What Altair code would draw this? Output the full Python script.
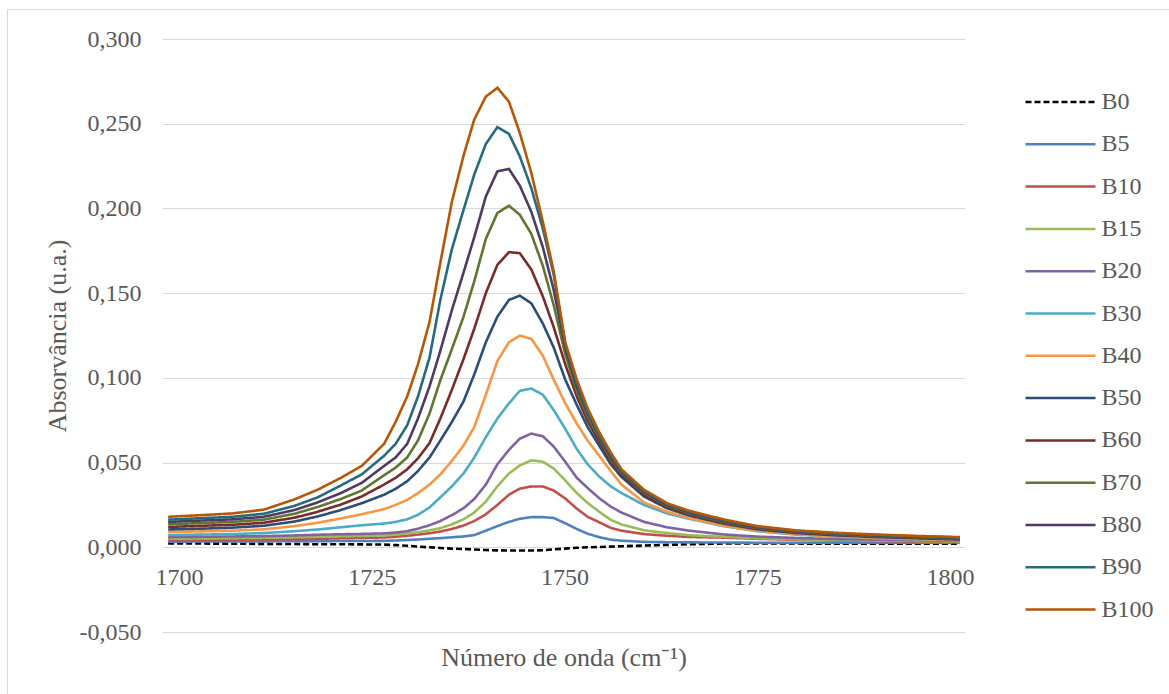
import altair as alt
import pandas as pd

# Wavenumber sampling points (cm-1)
wavenumber = [1698.6, 1703.0, 1707.0, 1711.0, 1715.0, 1718.0, 1721.0, 1723.7, 1726.6, 1728.1,
              1729.6, 1731.0, 1732.5, 1733.9, 1735.4, 1736.9, 1738.3, 1739.8, 1741.3, 1742.8,
              1744.2, 1745.7, 1747.2, 1748.6, 1750.1, 1751.6, 1753.0, 1754.5, 1756.0, 1757.4,
              1760.3, 1763.3, 1766.2, 1770.6, 1775.0, 1780.0, 1785.0, 1790.0, 1795.0, 1801.3]

series_names = ["B0", "B5", "B10", "B15", "B20", "B30", "B40", "B50", "B60", "B70", "B80", "B90", "B100"]

b0 = [0.0022, 0.0022, 0.0021, 0.0020, 0.0019, 0.0018, 0.0018, 0.0017, 0.0016, 0.0013,
      0.0009, 0.0004, 0.0000, -0.0004, -0.0008, -0.0010, -0.0013, -0.0016, -0.0018, -0.0019,
      -0.0019, -0.0019, -0.0017, -0.0012, -0.0008, -0.0003, 0.0000, 0.0002, 0.0004, 0.0006,
      0.0010, 0.0014, 0.0018, 0.0022, 0.0023, 0.0022, 0.0021, 0.0021, 0.0021, 0.0021]
b5 = [0.0033, 0.0034, 0.0035, 0.0035, 0.0036, 0.0036, 0.0037, 0.0037, 0.0038, 0.0040,
      0.0043, 0.0046, 0.0050, 0.0054, 0.0059, 0.0064, 0.0072, 0.0098, 0.0125, 0.0150,
      0.0168, 0.0178, 0.0178, 0.0173, 0.0142, 0.0108, 0.0080, 0.0060, 0.0045, 0.0039,
      0.0032, 0.0030, 0.0029, 0.0028, 0.0027, 0.0027, 0.0027, 0.0027, 0.0027, 0.0028]
b10 = [0.0042, 0.0043, 0.0044, 0.0046, 0.0048, 0.0050, 0.0053, 0.0055, 0.0058, 0.0062,
       0.0068, 0.0075, 0.0083, 0.0093, 0.0108, 0.0128, 0.0155, 0.0195, 0.0250, 0.0310,
       0.0346, 0.0359, 0.0359, 0.0335, 0.0288, 0.0228, 0.0180, 0.0148, 0.0115, 0.0098,
       0.0078, 0.0068, 0.0061, 0.0057, 0.0050, 0.0044, 0.0040, 0.0037, 0.0034, 0.0031]
b15 = [0.0050, 0.0052, 0.0054, 0.0056, 0.0059, 0.0062, 0.0065, 0.0067, 0.0069, 0.0075,
       0.0082, 0.0089, 0.0100, 0.0113, 0.0135, 0.0165, 0.0205, 0.0270, 0.0360, 0.0435,
       0.0483, 0.0513, 0.0505, 0.0465, 0.0395, 0.0320, 0.0262, 0.0210, 0.0162, 0.0135,
       0.0100, 0.0084, 0.0071, 0.0062, 0.0054, 0.0047, 0.0043, 0.0040, 0.0037, 0.0034]
b20 = [0.0060, 0.0062, 0.0064, 0.0066, 0.0070, 0.0074, 0.0077, 0.0079, 0.0082, 0.0087,
       0.0095, 0.0110, 0.0130, 0.0155, 0.0190, 0.0230, 0.0285, 0.0370, 0.0490, 0.0575,
       0.0641, 0.0671, 0.0655, 0.0595, 0.0505, 0.0410, 0.0350, 0.0290, 0.0240, 0.0205,
       0.0150, 0.0118, 0.0098, 0.0076, 0.0063, 0.0055, 0.0049, 0.0045, 0.0042, 0.0037]
b30 = [0.0072, 0.0075, 0.0078, 0.0084, 0.0095, 0.0105, 0.0118, 0.0130, 0.0140, 0.0150,
       0.0165, 0.0192, 0.0235, 0.0295, 0.0360, 0.0435, 0.0530, 0.0650, 0.0760, 0.0850,
       0.0923, 0.0937, 0.0900, 0.0810, 0.0700, 0.0580, 0.0490, 0.0418, 0.0360, 0.0320,
       0.0250, 0.0200, 0.0168, 0.0125, 0.0095, 0.0075, 0.0063, 0.0054, 0.0047, 0.0040]
b40 = [0.0090, 0.0094, 0.0098, 0.0106, 0.0125, 0.0145, 0.0170, 0.0195, 0.0225, 0.0250,
       0.0280, 0.0320, 0.0370, 0.0430, 0.0510, 0.0600, 0.0710, 0.0900, 0.1100, 0.1210,
       0.1249, 0.1230, 0.1130, 0.0990, 0.0850, 0.0730, 0.0630, 0.0540, 0.0450, 0.0370,
       0.0265, 0.0210, 0.0172, 0.0128, 0.0097, 0.0077, 0.0065, 0.0056, 0.0049, 0.0043]
b50 = [0.0105, 0.0110, 0.0116, 0.0127, 0.0152, 0.0182, 0.0220, 0.0260, 0.0310, 0.0345,
       0.0390, 0.0450, 0.0530, 0.0630, 0.0740, 0.0860, 0.1020, 0.1210, 0.1361, 0.1460,
       0.1485, 0.1440, 0.1320, 0.1180, 0.0990, 0.0840, 0.0710, 0.0600, 0.0490, 0.0415,
       0.0300, 0.0230, 0.0187, 0.0140, 0.0106, 0.0084, 0.0071, 0.0061, 0.0054, 0.0046]
b60 = [0.0120, 0.0127, 0.0133, 0.0145, 0.0175, 0.0210, 0.0252, 0.0300, 0.0370, 0.0410,
       0.0460, 0.0525, 0.0615, 0.0760, 0.0930, 0.1110, 0.1290, 0.1500, 0.1667, 0.1742,
       0.1736, 0.1640, 0.1480, 0.1300, 0.1080, 0.0890, 0.0745, 0.0625, 0.0505, 0.0430,
       0.0313, 0.0238, 0.0193, 0.0145, 0.0110, 0.0088, 0.0074, 0.0064, 0.0057, 0.0049]
b70 = [0.0136, 0.0143, 0.0150, 0.0163, 0.0198, 0.0238, 0.0285, 0.0335, 0.0425, 0.0470,
       0.0530, 0.0630, 0.0790, 0.0986, 0.1170, 0.1360, 0.1570, 0.1820, 0.1973, 0.2016,
       0.1963, 0.1850, 0.1660, 0.1430, 0.1140, 0.0920, 0.0770, 0.0645, 0.0520, 0.0440,
       0.0322, 0.0245, 0.0200, 0.0150, 0.0114, 0.0091, 0.0077, 0.0067, 0.0060, 0.0052]
b80 = [0.0150, 0.0158, 0.0165, 0.0180, 0.0220, 0.0265, 0.0320, 0.0380, 0.0480, 0.0530,
       0.0610, 0.0760, 0.0950, 0.1160, 0.1400, 0.1620, 0.1830, 0.2070, 0.2219, 0.2233,
       0.2135, 0.1980, 0.1770, 0.1520, 0.1180, 0.0950, 0.0790, 0.0655, 0.0530, 0.0445,
       0.0328, 0.0250, 0.0205, 0.0155, 0.0118, 0.0094, 0.0080, 0.0070, 0.0063, 0.0055]
b90 = [0.0163, 0.0172, 0.0180, 0.0198, 0.0245, 0.0295, 0.0365, 0.0430, 0.0540, 0.0610,
       0.0720, 0.0890, 0.1120, 0.1460, 0.1760, 0.1990, 0.2200, 0.2380, 0.2480, 0.2440,
       0.2308, 0.2120, 0.1880, 0.1610, 0.1200, 0.0970, 0.0800, 0.0660, 0.0545, 0.0450,
       0.0333, 0.0255, 0.0210, 0.0160, 0.0122, 0.0097, 0.0083, 0.0073, 0.0066, 0.0058]
b100 = [0.0180, 0.0190, 0.0200, 0.0222, 0.0283, 0.0340, 0.0410, 0.0480, 0.0610, 0.0740,
        0.0890, 0.1080, 0.1330, 0.1680, 0.2040, 0.2310, 0.2525, 0.2660, 0.2712, 0.2630,
        0.2446, 0.2210, 0.1920, 0.1630, 0.1210, 0.0990, 0.0820, 0.0680, 0.0560, 0.0460,
        0.0340, 0.0260, 0.0215, 0.0165, 0.0125, 0.0100, 0.0086, 0.0076, 0.0068, 0.0060]

series_values = [b0, b5, b10, b15, b20, b30, b40, b50, b60, b70, b80, b90, b100]

series_colors = ["#000000", "#4F81BD", "#C0504D", "#9BBB59", "#8064A2", "#4BACC6", "#F79646",
                 "#2C4D75", "#772C2A", "#5F7530", "#4D3B62", "#276A7C", "#B65708"]
series_dashes = [[6, 3]] + [[1, 0]] * 12

y_ticks = [-0.05, 0.0, 0.05, 0.1, 0.15, 0.2, 0.25, 0.3]
x_ticks = [1700, 1725, 1750, 1775, 1800]

rows = []
for name, values in zip(series_names, series_values):
    for wn, a in zip(wavenumber, values):
        rows.append({"wn": wn, "absorb": a, "amostra": name})
df = pd.DataFrame(rows)

FONT = "Liberation Serif"
GREY_TEXT = "#595959"
GRID = "#D9D9D9"

PLOT_W = 803
PLOT_H = 593

# legend key: a 70 px horizontal stroke drawn from a compact symbol size
legend = alt.Legend(
    title=None, orient="none", legendX=879.5, legendY=44,
    symbolType="M-2,0L2,0", symbolSize=1225, symbolStrokeWidth=2.5,
    labelFont=FONT, labelFontSize=24, labelColor=GREY_TEXT, labelOffset=22,
    rowPadding=11.3, padding=0,
)

lines = alt.Chart(df).mark_line(strokeWidth=2.6, clip=True).encode(
    x=alt.X(
        "wn:Q",
        scale=alt.Scale(domain=[1697.8, 1801.95], nice=False, zero=False),
        axis=alt.Axis(
            values=x_ticks, format="d", orient="bottom", offset=-85,
            domain=False, ticks=False, tickSize=0, grid=False,
            labelFont=FONT, labelFontSize=24, labelColor=GREY_TEXT, labelPadding=18,
            title="Número de onda (cm⁻¹)", titleFont=FONT, titleFontSize=26,
            titleFontWeight="normal", titleColor=GREY_TEXT,
            titleY=110, titleBaseline="middle",
        ),
    ),
    y=alt.Y(
        "absorb:Q",
        scale=alt.Scale(domain=[-0.05, 0.3], nice=False, zero=False),
        axis=alt.Axis(
            values=y_ticks,
            labelExpr="(datum.value < -0.00001 ? '-' : '') + replace(format(abs(datum.value), '.3f'), '.', ',')",
            domain=False, ticks=False, tickSize=0, grid=True, gridColor=GRID, gridWidth=1,
            labelFont=FONT, labelFontSize=24, labelColor=GREY_TEXT, labelPadding=21,
            title="Absorvância (u.a.)", titleFont=FONT, titleFontSize=26,
            titleFontWeight="normal", titleColor=GREY_TEXT,
            titleAngle=270, titleX=-105, titleY=PLOT_H / 2,
            titleAlign="center", titleBaseline="middle",
        ),
    ),
    color=alt.Color("amostra:N", scale=alt.Scale(domain=series_names, range=series_colors), legend=legend),
    strokeDash=alt.StrokeDash("amostra:N", scale=alt.Scale(domain=series_names, range=series_dashes), legend=legend),
)

# light frame of the figure area (left and top edges fall inside the page)
frame = alt.Chart(pd.DataFrame({"k": [0]})).mark_rect(
    fill="transparent", stroke=GRID, strokeWidth=1.2
).encode(
    x=alt.value(-154.5), x2=alt.value(1015),
    y=alt.value(-29.5), y2=alt.value(700),
)

chart = alt.layer(frame, lines).properties(
    width=PLOT_W, height=PLOT_H,
    background="white",
    autosize=alt.AutoSizeParams(type="none"),
    padding={"left": 162, "top": 39, "right": 204, "bottom": 62},
).configure_view(strokeWidth=0, strokeOpacity=0)

chart.save("out.html", embed_options={"renderer": "svg", "actions": False})
